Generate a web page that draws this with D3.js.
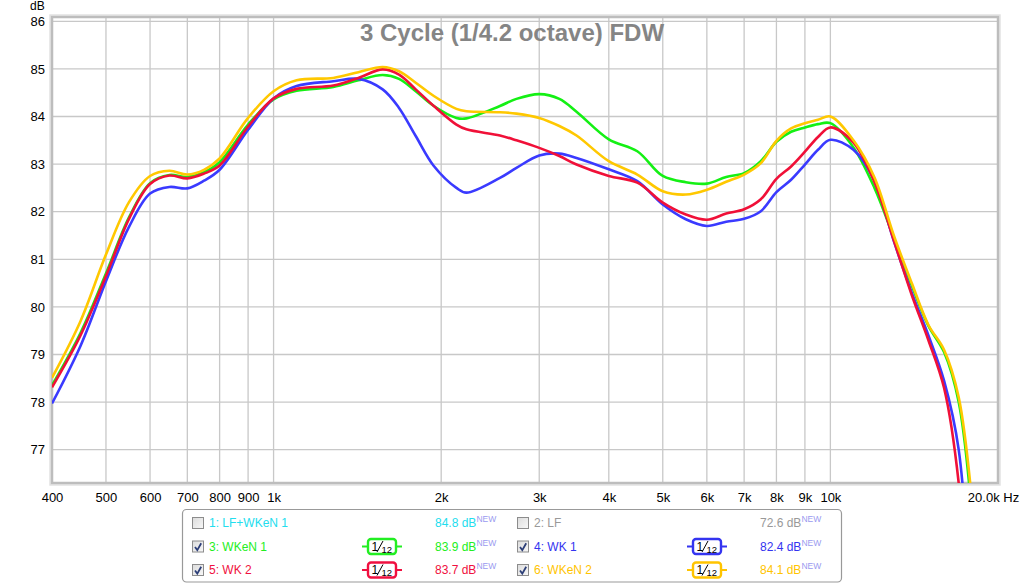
<!DOCTYPE html>
<html>
<head>
<meta charset="utf-8">
<script src="https://cdn.jsdelivr.net/npm/d3@7"></script>
<style>
  body { margin: 0; background: #fff; }
  svg text { font-family: Arial, "Liberation Sans", sans-serif; }
</style>
</head>
<body>
<div id="canvas"></div>
<script>
// frequencies (Hz) the traces were read at
const freqs = [400, 450, 500, 550, 600, 650, 700, 750, 800, 900, 1000, 1100, 1280, 1420, 1570, 1680, 1800, 1940, 2130, 2220, 2550, 2730, 3000, 3260, 3500, 4000, 4500, 5000, 5500, 6000, 6500, 7000, 7500, 8000, 8500, 9000, 9500, 10000, 11000, 12000, 13000, 14000, 15000, 16000, 17000, 18000];

// 3: WKeN 1 (green)
const wken1 = [78.35, 79.45, 80.7, 81.88, 82.6, 82.77, 82.73, 82.83, 83.04, 83.83, 84.36, 84.54, 84.62, 84.76, 84.87, 84.79, 84.53, 84.22, 83.97, 83.96, 84.22, 84.37, 84.47, 84.37, 84.1, 83.52, 83.27, 82.75, 82.62, 82.59, 82.73, 82.81, 83.06, 83.47, 83.68, 83.77, 83.84, 83.86, 83.35, 82.5, 81.45, 80.45, 79.6, 79.05, 78.0, 75.5];
// 4: WK 1 (blue)
const wk1 = [77.97, 79.18, 80.54, 81.68, 82.38, 82.52, 82.49, 82.65, 82.88, 83.72, 84.38, 84.64, 84.74, 84.79, 84.57, 84.18, 83.59, 82.96, 82.5, 82.4, 82.71, 82.92, 83.18, 83.22, 83.13, 82.89, 82.64, 82.15, 81.84, 81.7, 81.79, 81.85, 82.01, 82.41, 82.67, 82.99, 83.3, 83.51, 83.3, 82.65, 81.38, 80.3, 79.4, 78.45, 77.0, 73.0];
// 5: WK 2 (red)
const wk2 = [78.31, 79.4, 80.65, 81.85, 82.58, 82.76, 82.7, 82.8, 82.97, 83.79, 84.38, 84.58, 84.65, 84.81, 84.99, 84.88, 84.57, 84.22, 83.83, 83.73, 83.6, 83.5, 83.34, 83.17, 82.99, 82.75, 82.61, 82.19, 81.94, 81.83, 81.96, 82.05, 82.26, 82.69, 82.95, 83.26, 83.57, 83.77, 83.45, 82.62, 81.4, 80.25, 79.3, 78.3, 76.3, 72.0];
// 6: WKeN 2 (yellow)
const wken2 = [78.51, 79.7, 81.1, 82.2, 82.75, 82.86, 82.78, 82.88, 83.12, 83.97, 84.53, 84.76, 84.81, 84.93, 85.04, 84.95, 84.71, 84.43, 84.16, 84.11, 84.09, 84.06, 83.97, 83.8, 83.6, 83.06, 82.78, 82.43, 82.36, 82.46, 82.63, 82.78, 83.02, 83.49, 83.75, 83.86, 83.93, 84.0, 83.5, 82.72, 81.5, 80.5, 79.62, 79.1, 78.1, 75.8];

const yTicks = [77, 78, 79, 80, 81, 82, 83, 84, 85, 86];
const xTicks = [400, 500, 600, 700, 800, 900, 1000, 2000, 3000, 4000, 5000, 6000, 7000, 8000, 9000, 10000, 20000];
const xTickLabels = ["400", "500", "600", "700", "800", "900", "1k", "2k", "3k", "4k", "5k", "6k", "7k", "8k", "9k", "10k", "20.0k Hz"];

const legendNames = ["1: LF+WKeN 1", "2: LF", "3: WKeN 1", "4: WK 1", "5: WK 2", "6: WKeN 2"];
const legendValues = ["84.8 dB", "72.6 dB", "83.9 dB", "82.4 dB", "83.7 dB", "84.1 dB"];
const legendColors = ["#22ddee", "#999999", "#22ee22", "#3434f0", "#f01040", "#ffc400"];
const legendChecked = [false, false, true, true, true, true];

const series = [
  { values: wken1, color: "#14f014" },
  { values: wk1, color: "#3a3aff" },
  { values: wk2, color: "#f01038" },
  { values: wken2, color: "#ffc800" }
];

const width = 1024;
const height = 584;
const margin = { top: 17, left: 52, bottom: 101, right: 26 };
const iwidth = width - margin.left - margin.right;
const iheight = height - margin.top - margin.bottom;

const svg = d3.select("#canvas").append("svg")
  .attr("width", width)
  .attr("height", height);

const g = svg.append("g").attr("transform", `translate(${margin.left},${margin.top})`);

const x = d3.scaleLog().domain([400, 20000]).range([0, iwidth]);
const y = d3.scaleLinear().domain([76.3, 86.09]).range([iheight, 0]);

// grid
g.append("g").selectAll("line").data(yTicks).enter().append("line")
  .attr("x1", 0).attr("x2", iwidth)
  .attr("y1", d => y(d)).attr("y2", d => y(d))
  .attr("stroke", "#c8c8c8").attr("stroke-width", 1.3);

g.append("g").selectAll("line").data(xTicks.slice(1, -1)).enter().append("line")
  .attr("x1", d => x(d)).attr("x2", d => x(d))
  .attr("y1", 0).attr("y2", iheight)
  .attr("stroke", "#c8c8c8").attr("stroke-width", 1.3);

// frame with a soft shadow
g.append("rect")
  .attr("x", -2).attr("y", -2).attr("width", iwidth + 4).attr("height", iheight + 4)
  .attr("fill", "none").attr("stroke", "#e2e2e2").attr("stroke-width", 1.5);
g.append("rect")
  .attr("width", iwidth).attr("height", iheight)
  .attr("fill", "none").attr("stroke", "#bdbdbd").attr("stroke-width", 2.5);

svg.append("text")
  .attr("x", 512).attr("y", 41)
  .attr("text-anchor", "middle")
  .attr("font-size", 24).attr("font-weight", "bold")
  .attr("fill", "#858585")
  .text("3 Cycle (1/4.2 octave) FDW");

// curves
g.append("clipPath").attr("id", "plotclip")
  .append("rect").attr("width", iwidth).attr("height", iheight);

const line = d3.line()
  .x(d => x(d[0]))
  .y(d => y(d[1]))
  .curve(d3.curveCatmullRom.alpha(0.5));

g.append("g").attr("clip-path", "url(#plotclip)")
  .selectAll("path").data(series).enter().append("path")
  .attr("d", s => line(freqs.map((f, i) => [f, s.values[i]])))
  .attr("fill", "none")
  .attr("stroke", s => s.color)
  .attr("stroke-width", 2.6)
  .attr("stroke-linejoin", "round");

// axes
const xAxis = g.append("g")
  .attr("transform", `translate(0, ${iheight})`)
  .call(d3.axisBottom(x).tickValues(xTicks).tickFormat((d, i) => xTickLabels[i]).tickSize(0).tickPadding(10));
xAxis.select(".domain").remove();
xAxis.selectAll("text").attr("font-size", 13).attr("fill", "#000").attr("font-family", null);
xAxis.selectAll("text").filter(d => d === 20000).attr("x", -5);

const yAxis = g.append("g")
  .call(d3.axisLeft(y).tickValues(yTicks).tickSize(0).tickPadding(7));
yAxis.select(".domain").remove();
yAxis.selectAll("text").attr("font-size", 13).attr("fill", "#000").attr("font-family", null);

svg.append("text").attr("x", 30).attr("y", 10).attr("font-size", 12).text("dB");

// legend
const legend = svg.append("g");
legend.append("rect")
  .attr("x", 182.5).attr("y", 509.5).attr("width", 659).attr("height", 72.5)
  .attr("rx", 4).attr("fill", "#fff").attr("stroke", "#999").attr("stroke-width", 1.2);

const grad = svg.append("defs").append("linearGradient")
  .attr("id", "cbgrad").attr("x1", 0).attr("y1", 0).attr("x2", 1).attr("y2", 1);
grad.append("stop").attr("offset", "0%").attr("stop-color", "#dcdcdc");
grad.append("stop").attr("offset", "100%").attr("stop-color", "#f8f8f8");

const rowY = [523, 546.5, 570];
const colX = [192, 517];

legendNames.forEach((name, i) => {
  const cx = colX[i % 2];
  const cy = rowY[Math.floor(i / 2)];
  const item = legend.append("g").attr("transform", `translate(${cx},${cy})`);

  item.append("rect")
    .attr("x", 0.5).attr("y", -5.5).attr("width", 11).attr("height", 11)
    .attr("fill", "url(#cbgrad)").attr("stroke", "#8c8c8c");
  if (legendChecked[i]) {
    item.append("path")
      .attr("d", "M3,0.5 L5.3,3.6 L9.2,-3.2")
      .attr("fill", "none").attr("stroke", "#2d3f78").attr("stroke-width", 1.8);
  }

  item.append("text")
    .attr("x", 17).attr("y", 4.3)
    .attr("font-size", 12).attr("fill", legendColors[i])
    .text(name);

  if (legendChecked[i]) {
    const icon = item.append("g").attr("transform", "translate(170,0)");
    icon.append("line").attr("x1", 0).attr("x2", 40).attr("y1", 0).attr("y2", 0)
      .attr("stroke", legendColors[i]).attr("stroke-width", 2);
    icon.append("rect")
      .attr("x", 6).attr("y", -7.5).attr("width", 28).attr("height", 15).attr("rx", 3)
      .attr("fill", "#fff").attr("stroke", legendColors[i]).attr("stroke-width", 2.4);
    icon.append("text").attr("x", 9.5).attr("y", 4).attr("font-size", 12).attr("fill", "#000").text("1");
    icon.append("line").attr("x1", 15).attr("y1", 5.5).attr("x2", 21).attr("y2", -5.5)
      .attr("stroke", "#000").attr("stroke-width", 1);
    icon.append("text").attr("x", 19.5).attr("y", 6).attr("font-size", 9.5).attr("fill", "#000").text("12");
  }

  const val = item.append("text")
    .attr("x", 243).attr("y", 4.3)
    .attr("font-size", 12).attr("fill", legendColors[i]);
  val.append("tspan").text(legendValues[i]);
  val.append("tspan").attr("dy", -5).attr("font-size", 8.5).attr("fill", "#9a9af0").text("NEW");
});
</script>
</body>
</html>
